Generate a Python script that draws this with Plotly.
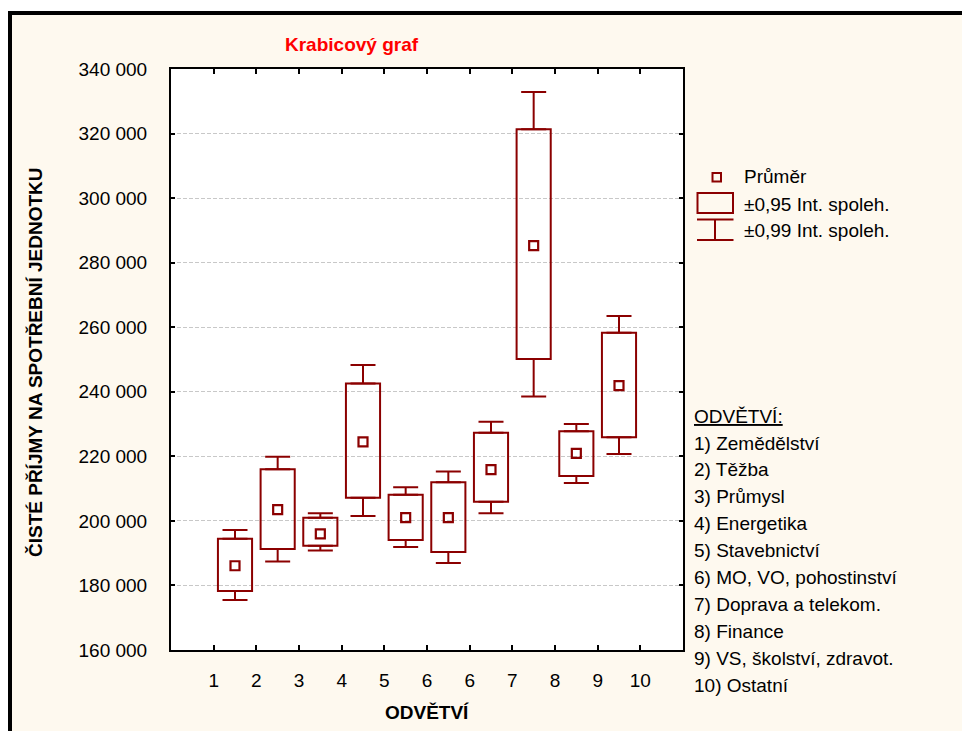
import plotly.graph_objects as go

# ---------------- data ----------------
x_tick_vals = [1, 2, 3, 4, 5, 6, 7, 8, 9, 10, 11]
x_tick_text = ["1", "2", "3", "4", "5", "6", "6", "7", "8", "9", "10"]
positions = [1.5, 2.5, 3.5, 4.5, 5.5, 6.5, 7.5, 8.5, 9.5, 10.5]
means = [186100, 203500, 196000, 224500, 201000, 201000, 215900, 285300, 220900, 241900]
ci95_low = [178300, 191300, 192300, 207200, 194100, 190400, 205900, 250150, 213900, 225900]
ci95_high = [194500, 216000, 201000, 242600, 208100, 211950, 227300, 321300, 227800, 258300]
ci99_low = [175500, 187400, 190800, 201500, 191900, 186950, 202400, 238500, 211700, 220700]
ci99_high = [197200, 219900, 202400, 248300, 210400, 215300, 230700, 332900, 230000, 263500]
y_ticks = [160000, 180000, 200000, 220000, 240000, 260000, 280000, 300000, 320000, 340000]
sectors = ["1) Zemědělství", "2) Těžba", "3) Průmysl", "4) Energetika", "5) Stavebnictví",
           "6) MO, VO, pohostinství", "7) Doprava a telekom.", "8) Finance",
           "9) VS, školství, zdravot.", "10) Ostatní"]
legend_labels = ["Průměr", "±0,95 Int. spoleh.", "±0,99 Int. spoleh."]

# ---------------- style ----------------
W, H = 962, 731
L, R, T, B = 171, 683, 69, 650
DARK = "#8B0000"
CREAM = "#FEF9EF"
FONT = "Arial, Liberation Sans, sans-serif"


def fx(px):
    return (px - L) / (R - L)


def fy(py):
    return (B - py) / (B - T)


fig = go.Figure()

# ±0.95 boxes
fig.add_trace(go.Bar(
    x=positions,
    base=ci95_low,
    y=[h - l for h, l in zip(ci95_high, ci95_low)],
    width=0.8,
    marker=dict(color="rgba(0,0,0,0)", line=dict(color=DARK, width=2)),
    showlegend=False, hoverinfo="skip",
))

# ±0.99 whiskers (upper and lower)
fig.add_trace(go.Scatter(
    x=positions, y=ci95_high, mode="markers",
    marker=dict(size=1, opacity=0),
    error_y=dict(type="data", symmetric=False,
                 array=[u - h for u, h in zip(ci99_high, ci95_high)],
                 arrayminus=[0] * len(positions),
                 color=DARK, thickness=2, width=12.5),
    showlegend=False, hoverinfo="skip",
))
fig.add_trace(go.Scatter(
    x=positions, y=ci95_low, mode="markers",
    marker=dict(size=1, opacity=0),
    error_y=dict(type="data", symmetric=False,
                 array=[0] * len(positions),
                 arrayminus=[l - w for l, w in zip(ci95_low, ci99_low)],
                 color=DARK, thickness=2, width=12.5),
    showlegend=False, hoverinfo="skip",
))

# means
fig.add_trace(go.Scatter(
    x=positions, y=means, mode="markers",
    marker=dict(symbol="square-open", size=9, color=DARK, line=dict(color=DARK, width=2.2)),
    showlegend=False, hoverinfo="skip",
))

shapes = []
# outer frame: white strips outside, black border lines
shapes.append(dict(type="rect", xref="paper", yref="paper", x0=fx(-5), x1=fx(W + 5), y0=fy(-5), y1=fy(11),
                   fillcolor="white", line=dict(width=0), layer="above"))
shapes.append(dict(type="rect", xref="paper", yref="paper", x0=fx(-5), x1=fx(8), y0=fy(-5), y1=fy(H + 5),
                   fillcolor="white", line=dict(width=0), layer="above"))
shapes.append(dict(type="line", xref="paper", yref="paper", x0=fx(8), x1=fx(W + 5), y0=fy(13), y1=fy(13),
                   line=dict(color="black", width=4)))
shapes.append(dict(type="line", xref="paper", yref="paper", x0=fx(10), x1=fx(10), y0=fy(11), y1=fy(H + 5),
                   line=dict(color="black", width=4)))

# legend icons
shapes.append(dict(type="rect", xref="paper", yref="paper", x0=fx(712.5), x1=fx(721), y0=fy(173), y1=fy(181.5),
                   line=dict(color=DARK, width=2)))
shapes.append(dict(type="rect", xref="paper", yref="paper", x0=fx(697.5), x1=fx(733), y0=fy(193), y1=fy(213),
                   line=dict(color=DARK, width=2)))
shapes.append(dict(type="line", xref="paper", yref="paper", x0=fx(697), x1=fx(733.5), y0=fy(219.5), y1=fy(219.5),
                   line=dict(color=DARK, width=2)))
shapes.append(dict(type="line", xref="paper", yref="paper", x0=fx(697), x1=fx(733.5), y0=fy(240), y1=fy(240),
                   line=dict(color=DARK, width=2)))
shapes.append(dict(type="line", xref="paper", yref="paper", x0=fx(715), x1=fx(715), y0=fy(219.5), y1=fy(240),
                   line=dict(color=DARK, width=2)))

annotations = []
annotations.append(dict(text="<b>Krabicový graf</b>", xref="paper", yref="paper", x=fx(352), y=fy(45),
                        xanchor="center", yanchor="middle", showarrow=False,
                        font=dict(family=FONT, size=19, color="#FF0000")))
annotations.append(dict(text="<b>ČISTÉ PŘÍJMY NA SPOTŘEBNÍ JEDNOTKU</b>", xref="paper", yref="paper",
                        x=fx(35), y=fy(362), textangle=-90, xanchor="center", yanchor="middle",
                        showarrow=False, font=dict(family=FONT, size=19, color="black")))
annotations.append(dict(text="<b>ODVĚTVÍ</b>", xref="paper", yref="paper", x=fx(427), y=fy(712),
                        xanchor="center", yanchor="middle", showarrow=False,
                        font=dict(family=FONT, size=19, color="black")))

for lbl, yy in zip(legend_labels, [177, 204, 230]):
    annotations.append(dict(text=lbl, xref="paper", yref="paper", x=fx(742), y=fy(yy),
                            xanchor="left", yanchor="middle", showarrow=False,
                            font=dict(family=FONT, size=19, color="black")))

annotations.append(dict(text="<u>ODVĚTVÍ:</u>", xref="paper", yref="paper", x=fx(692), y=fy(416),
                        xanchor="left", yanchor="middle", showarrow=False,
                        font=dict(family=FONT, size=19, color="black")))
for i, s in enumerate(sectors):
    annotations.append(dict(text=s, xref="paper", yref="paper", x=fx(692), y=fy(443 + 26.9 * i),
                            xanchor="left", yanchor="middle", showarrow=False,
                            font=dict(family=FONT, size=19, color="black")))

fig.update_layout(
    width=W, height=H,
    margin=dict(l=L, r=W - R, t=T, b=H - B, pad=0),
    paper_bgcolor=CREAM, plot_bgcolor="white",
    separators=", ",
    font=dict(family=FONT, size=19, color="black"),
    shapes=shapes, annotations=annotations,
    showlegend=False,
    xaxis=dict(range=[0, 12], tickvals=x_tick_vals, ticktext=x_tick_text,
               showgrid=False, zeroline=False, showline=True, linecolor="black", linewidth=2,
               mirror="ticks", ticks="inside", ticklen=5, tickwidth=1.5, tickcolor="black",
               ticklabelstandoff=12, tickfont=dict(family=FONT, size=19, color="black")),
    yaxis=dict(range=[160000, 340000], tickvals=y_ticks, tickformat=",d",
               showgrid=True, gridcolor="#C8C8C8", gridwidth=1, griddash="4px,2px",
               zeroline=False, showline=True, linecolor="black", linewidth=2,
               mirror="ticks", ticks="inside", ticklen=4, tickwidth=1.5, tickcolor="black",
               ticklabelstandoff=18, tickfont=dict(family=FONT, size=19, color="black")),
)

fig.write_html("out.html")
